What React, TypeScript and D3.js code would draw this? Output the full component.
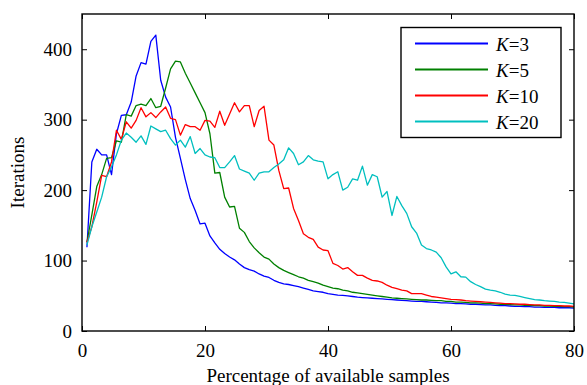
import React, { useRef, useEffect } from "react";
import * as d3 from "d3";

// sample positions (% of available samples), 100 samples
const pct = d3.range(1, 101).map((i) => i * 0.8);

// iterations per K
const k3 = [
  119, 240, 258, 250, 250, 222, 280, 306, 307, 325,
  362, 381, 379, 411, 420, 356, 332, 318, 275, 245,
  215, 188, 171, 152, 153, 135, 125, 116, 110, 105,
  101, 95, 90, 87, 85, 81, 78, 76, 72, 69,
  67, 66, 64.5, 63, 61, 59, 57, 56, 55, 53,
  52, 51, 50.5, 50, 49, 48, 47.5, 47, 46.5, 46,
  45.5, 45, 44.5, 44, 43.5, 43, 42.5, 42, 42, 41.5,
  41, 40.5, 40, 40, 39.5, 39, 39, 38.5, 38, 38,
  37.5, 37, 37, 36.5, 36, 36, 35.5, 35, 35, 34.5,
  34.5, 34, 34, 33.5, 33.5, 33.5, 33, 33, 33, 32.5,
];
const k5 = [
  126, 165, 205, 222, 245, 246, 270, 268, 307, 305,
  320, 322, 320, 330, 317, 319, 345, 372, 383, 382,
  366, 352, 338, 324, 310, 280, 224, 225, 190, 176,
  177, 146, 140, 127, 118, 111, 105, 102, 95, 90,
  86, 83, 80, 77, 75, 72, 70, 68, 65, 63,
  61, 60, 58, 57, 55, 54, 53, 52, 51, 50,
  49, 48, 47, 46.5, 46, 45.5, 45, 44.5, 44, 44,
  43.5, 43, 43, 42, 42, 41, 41, 40.5, 40, 40,
  39.5, 39, 39, 38.5, 38, 38, 37.5, 37, 37, 36.5,
  36.5, 36, 36, 35.5, 35.5, 35, 35, 34.5, 34.5, 34,
];
const k10 = [
  126, 148, 183, 221, 219, 240, 285, 272, 297, 288,
  299, 317, 304, 310, 303, 311, 318, 302, 300, 278,
  293, 290, 290, 285, 299, 298, 289, 312, 292, 308,
  324, 311, 320, 320, 290, 313, 319, 271, 264, 228,
  202, 203, 174, 157, 138, 133, 130, 119, 115, 114,
  96, 93, 88, 90, 84, 79, 79, 75, 72, 71,
  69, 65, 62, 60, 58, 57, 53, 53, 53, 51,
  49, 48, 47, 46, 45, 44.5, 44, 43, 42.5, 42,
  41.5, 41, 40.5, 40, 39.5, 39, 39, 38.5, 38, 38,
  37.5, 37, 37, 36.5, 36.5, 36, 36, 35.5, 35.5, 35,
];
const k20 = [
  122, 148, 169, 190, 219, 233, 250, 271, 281, 275,
  268, 277, 265, 291, 287, 283, 285, 273, 264, 271,
  261, 276, 252, 259, 250, 247, 246, 232, 232, 240,
  249, 230, 227, 224, 214, 224, 226, 226, 232, 237,
  243, 260, 252, 236, 240, 249, 243, 241, 240, 216,
  222, 226, 200, 204, 216, 214, 234, 207, 222, 219,
  190, 198, 164, 191, 178, 167, 148, 139, 122, 117,
  115, 112, 104, 91, 81, 84, 77, 76.5, 70, 66,
  63, 59.5, 58, 57, 55, 52.5, 51, 50.5, 49, 47.5,
  46, 44.5, 44, 43, 42.5, 42, 41, 40.5, 39.5, 38.5,
];

const seriesNames = ["3", "5", "10", "20"];
const seriesValues = [k3, k5, k10, k20];
const seriesColors = ["#0000ff", "#008000", "#ff0000", "#00bfbf"];

const xTicks = [0, 20, 40, 60, 80];
const yTicks = [0, 100, 200, 300, 400];

const FONT = "'Liberation Serif', 'Times New Roman', serif";

export default function App() {
  const ref = useRef<SVGSVGElement>(null);

  useEffect(() => {
    const W = 587;
    const H = 385;
    const m = { top: 14, right: 13, bottom: 54, left: 82 };
    const iw = W - m.left - m.right;
    const ih = H - m.top - m.bottom;

    const x = d3.scaleLinear().domain([0, 80]).range([0, iw]);
    const y = d3.scaleLinear().domain([0, 450]).range([ih, 0]);

    const svg = d3.select(ref.current);
    svg.selectAll("*").remove();
    const g = svg.append("g").attr("transform", `translate(${m.left},${m.top})`);

    // lines
    const line = d3
      .line<number>()
      .x((d, i) => x(pct[i]))
      .y((d) => y(d));

    seriesValues.forEach((vals, k) => {
      g.append("path")
        .datum(vals)
        .attr("fill", "none")
        .attr("stroke", seriesColors[k])
        .attr("stroke-width", 1.3)
        .attr("stroke-linejoin", "round")
        .attr("d", line);
    });

    // axes, ticks pointing inward on all four sides
    const styleAxis = (sel: any) => {
      sel.select(".domain").remove();
      sel.attr("font-family", FONT).attr("font-size", 19);
      sel.selectAll("line").attr("stroke", "#000").attr("stroke-width", 1);
      sel.selectAll("text").attr("fill", "#000");
    };

    g.append("g")
      .attr("transform", `translate(0,${ih})`)
      .call(d3.axisBottom(x).tickValues(xTicks).tickSize(-5).tickSizeOuter(0).tickPadding(13))
      .call(styleAxis);
    g.append("g")
      .call(d3.axisLeft(y).tickValues(yTicks).tickSize(-5).tickSizeOuter(0).tickPadding(10))
      .call(styleAxis);
    g.append("g")
      .call(d3.axisTop(x).tickValues(xTicks).tickSize(-5).tickSizeOuter(0).tickFormat(() => ""))
      .call(styleAxis);
    g.append("g")
      .attr("transform", `translate(${iw},0)`)
      .call(d3.axisRight(y).tickValues(yTicks).tickSize(-5).tickSizeOuter(0).tickFormat(() => ""))
      .call(styleAxis);

    // box
    g.append("rect")
      .attr("width", iw)
      .attr("height", ih)
      .attr("fill", "none")
      .attr("stroke", "#000")
      .attr("stroke-width", 1.4);

    // axis labels
    svg.append("text")
      .attr("x", m.left + iw / 2)
      .attr("y", 382)
      .attr("text-anchor", "middle")
      .attr("font-family", FONT)
      .attr("font-size", 19)
      .text("Percentage of available samples");

    svg.append("text")
      .attr("transform", `translate(24,${m.top + ih / 2}) rotate(-90)`)
      .attr("text-anchor", "middle")
      .attr("font-family", FONT)
      .attr("font-size", 19)
      .text("Iterations");

    // legend
    const lg = svg.append("g").attr("transform", "translate(401,27.5)");
    lg.append("rect")
      .attr("width", 160)
      .attr("height", 110)
      .attr("fill", "#fff")
      .attr("stroke", "#000")
      .attr("stroke-width", 1.4);
    seriesNames.forEach((name, k) => {
      const cy = 16 + k * 26;
      lg.append("line")
        .attr("x1", 14)
        .attr("x2", 87)
        .attr("y1", cy)
        .attr("y2", cy)
        .attr("stroke", seriesColors[k])
        .attr("stroke-width", 2);
      const t = lg.append("text")
        .attr("x", 95)
        .attr("y", cy + 7)
        .attr("font-family", FONT)
        .attr("font-size", 19);
      t.append("tspan").attr("font-style", "italic").text("K");
      t.append("tspan").text("=" + name);
    });
  }, []);

  return (
    <svg
      ref={ref}
      width={587}
      height={385}
      style={{ position: "absolute", left: 0, top: 0, background: "#fff" }}
    />
  );
}
